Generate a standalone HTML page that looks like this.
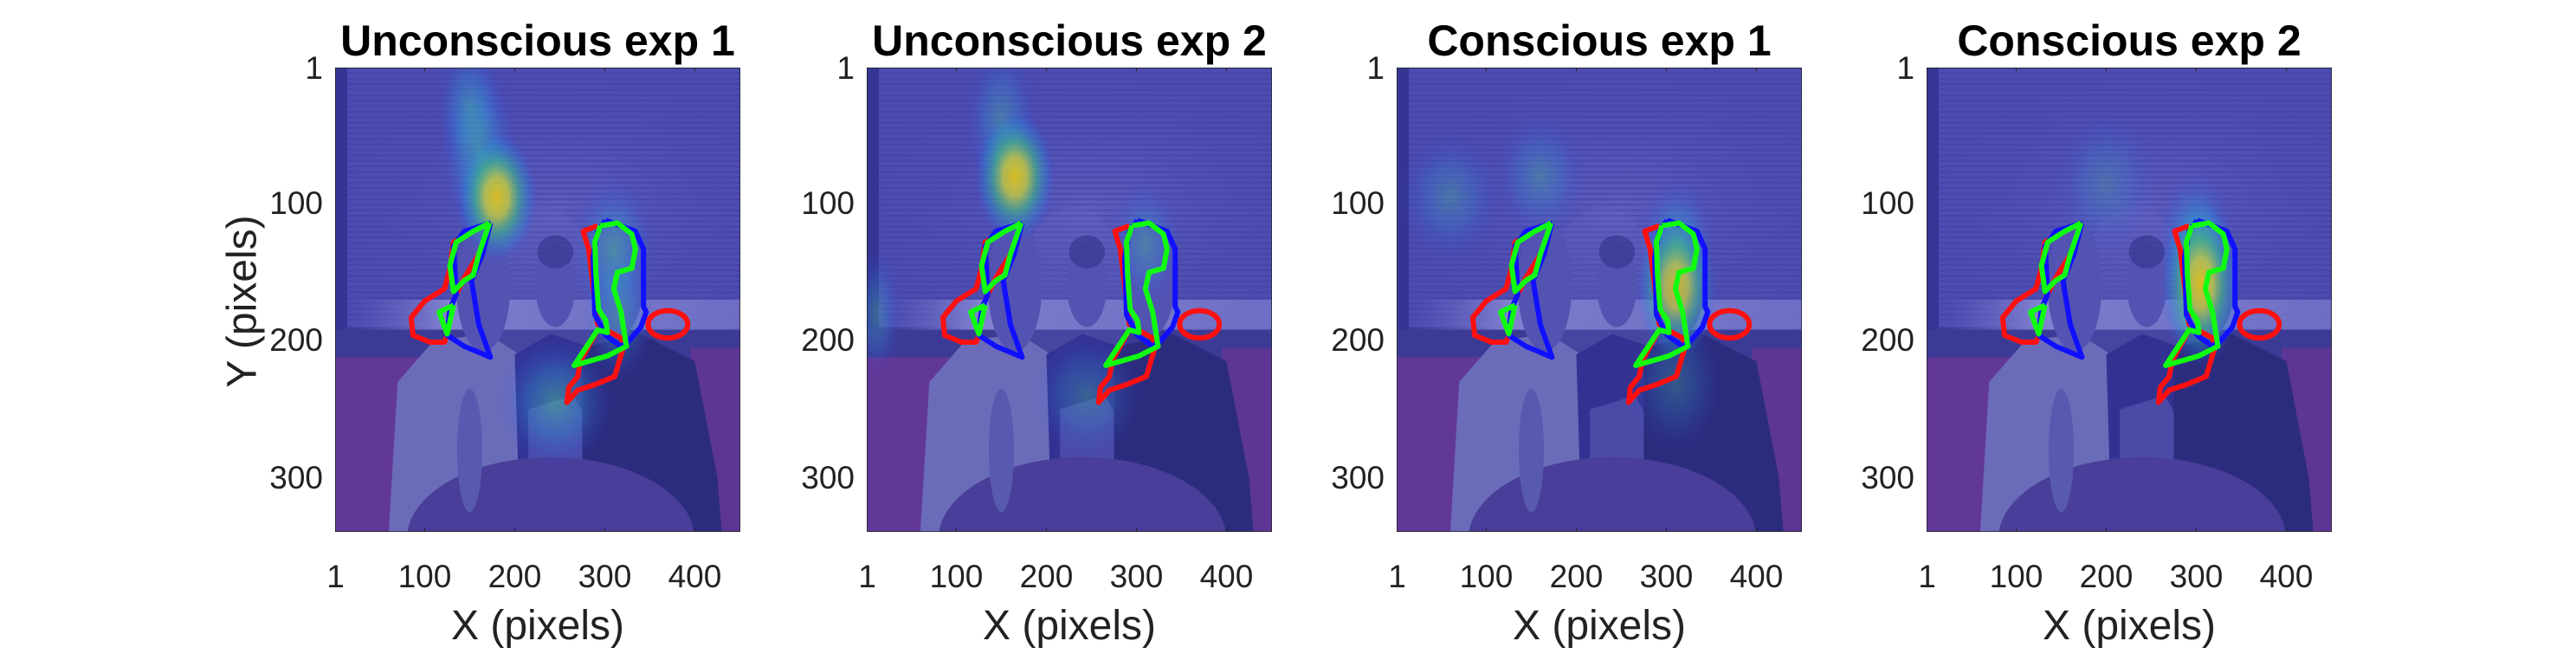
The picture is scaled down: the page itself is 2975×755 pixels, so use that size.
<!DOCTYPE html>
<html><head><meta charset="utf-8"><style>
html,body{margin:0;padding:0;background:#fff;}
#root{position:relative;width:2975px;height:755px;overflow:hidden;font-family:"Liberation Sans",sans-serif;color:#222;}
.t{position:absolute;white-space:nowrap;}
.title{font-weight:bold;font-size:50px;color:#000;transform:translateX(-50%);top:18px;}
.tick{font-size:37px;}
.xt{transform:translateX(-50%);top:645px;}
.yt{transform:translate(-100%,-50%);}
.xlab{font-size:48px;transform:translateX(-50%);top:695px;}
.ylab{font-size:48px;transform:translate(-50%,-50%) rotate(-90deg);}
svg.panel{position:absolute;top:78px;}
</style></head><body>
<div id="root"></div>
<script>
// ---- data ----
const panelTitles = ["Unconscious exp 1","Unconscious exp 2","Conscious exp 1","Conscious exp 2"];
const panelLefts = [387, 1001, 1613, 2225];
const xTicks = [1,100,200,300,400];
const yTicks = [1,100,200,300];
const xRange = [0.5, 450.5];
const yRange = [0.5, 339.5];
// heat blobs: [cx, cy, rx, ry, intensity]
const heat1 = [[150,30,22,30,0.45],[160,62,26,40,0.55],[180,95,28,30,0.9],[310,135,28,34,0.55],[245,245,40,30,0.55],[315,180,24,32,0.4]];
const heat2 = [[150,40,24,34,0.4],[165,80,28,30,0.9],[12,180,16,28,0.35],[310,130,24,28,0.4],[245,240,38,28,0.3]];
const heat3 = [[60,95,34,28,0.32],[160,80,30,28,0.32],[312,130,26,30,0.55],[311,160,28,34,0.75],[310,230,32,32,0.25]];
const heat4 = [[300,125,26,30,0.6],[305,158,28,38,0.92],[200,85,34,32,0.2]];
const heatSets = [heat1, heat2, heat3, heat4];
// ROI outlines (data coordinates)
const redLeft = [[173,114],[160,117],[132,128],[128,147],[122,162],[100,171],[85,183],[87,196],[106,201],[122,201],[125,196],[128,177],[135,166],[144,154],[160,137],[173,114]];
const greenLeft = [[172,114],[154,120],[135,128],[128,145],[132,164],[144,156],[154,152],[160,137],[172,114]];
const greenTri = [[132,174],[116,179],[125,195],[132,174]];
const blueLeft = [[173,114],[144,120],[132,131],[135,166],[128,177],[125,196],[144,204],[173,212],[160,188],[152,156],[164,137],[173,114]];
const blueRight = [[301,112],[334,120],[343,133],[343,175],[346,179],[340,190],[327,200],[318,204],[301,196],[289,181],[287,139],[292,120],[301,112]];
const redRight = [[292,116],[276,120],[282,133],[289,171],[292,188],[301,192],[318,198],[321,204],[311,226],[289,232],[270,236],[258,245],[260,234],[270,226],[273,215],[282,204],[292,192]];
const greenRight = [[295,116],[314,114],[330,122],[334,133],[330,147],[314,150],[310,162],[318,179],[324,204],[303,211],[266,218],[276,208],[292,192],[303,194],[301,185],[293,177],[290,150],[289,128],[295,116]];
const redBlob = [370,188,22,10];

const root = document.getElementById('root');
const NS = "http://www.w3.org/2000/svg";
const W = 468, H = 536, TOP = 78;
function xPix(L, v){ return L + (v - xRange[0]) / (xRange[1]-xRange[0]) * W; }
function yPix(v){ return TOP + (v - yRange[0]) / (yRange[1]-yRange[0]) * H; }
function mk(tag, attrs, parent){ const e=document.createElementNS(NS,tag); for(const k in attrs) e.setAttribute(k,attrs[k]); if(parent) parent.appendChild(e); return e; }
function pts(arr){ return arr.map(p=>p[0]+","+p[1]).join(" "); }

panelLefts.forEach((L, pi) => {
  const svg = mk('svg', {class:'panel', width:W, height:H, viewBox:"0.5 0.5 450 339", preserveAspectRatio:"none"});
  svg.style.left = L + 'px';
  
  
  const defs = mk('defs', {}, svg);
  const gh = mk('radialGradient', {id:'hot'+pi}, defs);
  [[0,'#ffd800',0.95],[0.3,'#d8e030',0.85],[0.55,'#40d080',0.6],[0.8,'#20a0e0',0.3],[1,'#3050ff',0]].forEach(s=>mk('stop',{offset:s[0],'stop-color':s[1],'stop-opacity':s[2]},gh));
  const gc = mk('radialGradient', {id:'cool'+pi}, defs);
  [[0,'#50d090',0.8],[0.5,'#30b0e0',0.45],[1,'#3050ff',0]].forEach(s=>mk('stop',{offset:s[0],'stop-color':s[1],'stop-opacity':s[2]},gc));
  const gl = mk('linearGradient', {id:'ledge'+pi, x1:0, x2:1, y1:0, y2:0}, defs);
  [[0,'#7a78c8',0],[0.25,'#9a96d8',0.9],[1,'#8a88d0',0.7]].forEach(s=>mk('stop',{offset:s[0],'stop-color':s[1],'stop-opacity':s[2]},gl));
  const gw = mk('radialGradient', {id:'wall'+pi, cx:0.55, cy:0.55, r:0.6}, defs);
  [[0,'#7672c8',0.6],[1,'#524eae',0]].forEach(s=>mk('stop',{offset:s[0],'stop-color':s[1],'stop-opacity':s[2]},gw));
  const pat = mk('pattern', {id:'stripes'+pi, width:450, height:4, patternUnits:'userSpaceOnUse'}, defs);
  mk('rect',{x:0,y:0,width:450,height:1.3,fill:'#3e3a98',opacity:0.45},pat);

  // scene
  mk('rect',{x:0,y:0,width:451,height:340,fill:'#3f3a96'},svg);
  mk('rect',{x:0,y:0,width:451,height:190,fill:'#524eae'},svg);
  mk('rect',{x:0,y:0,width:451,height:190,fill:'url(#wall'+pi+')'},svg);
  mk('rect',{x:15,y:0,width:436,height:185,fill:'url(#stripes'+pi+')'},svg);
  mk('rect',{x:0,y:0,width:14,height:340,fill:'#37338c'},svg);
  mk('rect',{x:20,y:170,width:431,height:22,fill:'url(#ledge'+pi+')'},svg);
  mk('rect',{x:0,y:192,width:451,height:20,fill:'#3e3a8e'},svg);
  mk('rect',{x:0,y:212,width:110,height:128,fill:'#6a3590'},svg);
  mk('rect',{x:395,y:205,width:56,height:135,fill:'#66348e'},svg);
  mk('circle',{cx:230,cy:165,r:62,fill:'#7470c0',opacity:0.25},svg);
  mk('path',{d:'M60 340 L70 230 L110 200 L170 195 L205 210 L215 290 L200 340 Z',fill:'#7674b8'},svg);
  mk('path',{d:'M200 210 L240 195 L285 205 L300 290 L290 330 L205 320 Z',fill:'#34308a'},svg);
  mk('path',{d:'M215 250 L265 240 L300 280 L250 300 L215 290 Z',fill:'#6c6abc',opacity:0.5},svg);
  mk('path',{d:'M275 205 L340 195 L400 215 L425 300 L430 340 L275 340 Z',fill:'#2c2872'},svg);
  mk('ellipse',{cx:165,cy:160,rx:30,ry:48,fill:'#5a56ae'},svg);
  mk('ellipse',{cx:245,cy:160,rx:22,ry:30,fill:'#5a56ae'},svg);
  mk('ellipse',{cx:245,cy:135,rx:20,ry:12,fill:'#3a3588',opacity:0.7},svg);
  mk('ellipse',{cx:315,cy:155,rx:28,ry:42,fill:'#5a56b0'},svg);
  mk('ellipse',{cx:240,cy:345,rx:160,ry:60,fill:'#4e3e92'},svg);
  mk('ellipse',{cx:150,cy:280,rx:14,ry:45,fill:'#5e5eac'},svg);

  // heat
  heatSets[pi].forEach((b, bi) => {
    const e = mk('ellipse',{cx:b[0],cy:b[1],rx:b[2]*1.6,ry:b[3]*1.6,fill:(b[4]>0.6?'url(#hot'+pi+')':'url(#cool'+pi+')'),opacity:Math.min(1,b[4]+0.15)},svg);
    
    
  });
  mk('rect',{x:0,y:0,width:451,height:340,fill:'#3040c0',opacity:0.15},svg);

  // ROIs
  const rois = [[redLeft,'#ff1010'],[blueLeft,'#1010ff'],[greenLeft,'#10ff10'],[greenTri,'#10ff10'],[redRight,'#ff1010'],[blueRight,'#1010ff'],[greenRight,'#10ff10']];
  rois.forEach(r => {
    const p = mk('polyline',{points:pts(r[0]),fill:'none',stroke:r[1],'stroke-width':6,'vector-effect':'non-scaling-stroke','stroke-linejoin':'round'},svg);
    
    
  });
  const rb = mk('ellipse',{cx:redBlob[0],cy:redBlob[1],rx:redBlob[2],ry:redBlob[3],fill:'none',stroke:'#ff1010','stroke-width':6,'vector-effect':'non-scaling-stroke'},svg);
  
  

  // ticks
  xTicks.slice(1).forEach(v => {
    mk('line',{x1:v,x2:v,y1:0.5,y2:3,stroke:'#222','stroke-width':1,'vector-effect':'non-scaling-stroke'},svg);
    mk('line',{x1:v,x2:v,y1:339.5,y2:337,stroke:'#222','stroke-width':1,'vector-effect':'non-scaling-stroke'},svg);
  });
  mk('rect',{x:0.5,y:0.5,width:450,height:339,fill:'none',stroke:'#222','stroke-width':1.5,'vector-effect':'non-scaling-stroke'},svg);
  root.appendChild(svg);

  const t = document.createElement('div');
  t.className = 't title';
  t.textContent = panelTitles[pi];
  t.style.left = (L + W/2) + 'px';
  
  
  root.appendChild(t);

  xTicks.forEach(v => {
    const d = document.createElement('div');
    d.className = 't tick xt';
    d.textContent = v;
    d.style.left = xPix(L, v) + 'px';
    
    
    root.appendChild(d);
  });
  yTicks.forEach(v => {
    const d = document.createElement('div');
    d.className = 't tick yt';
    d.textContent = v;
    d.style.left = (L - 14) + 'px';
    d.style.top = yPix(v) + 'px';
    
    
    root.appendChild(d);
  });
  const xl = document.createElement('div');
  xl.className = 't xlab';
  xl.textContent = 'X (pixels)';
  xl.style.left = (L + W/2) + 'px';
  
  
  root.appendChild(xl);
});
const yl = document.createElement('div');
yl.className = 't ylab';
yl.textContent = 'Y (pixels)';
yl.style.left = '280px';
yl.style.top = '348px';


root.appendChild(yl);
</script>
</body></html>
